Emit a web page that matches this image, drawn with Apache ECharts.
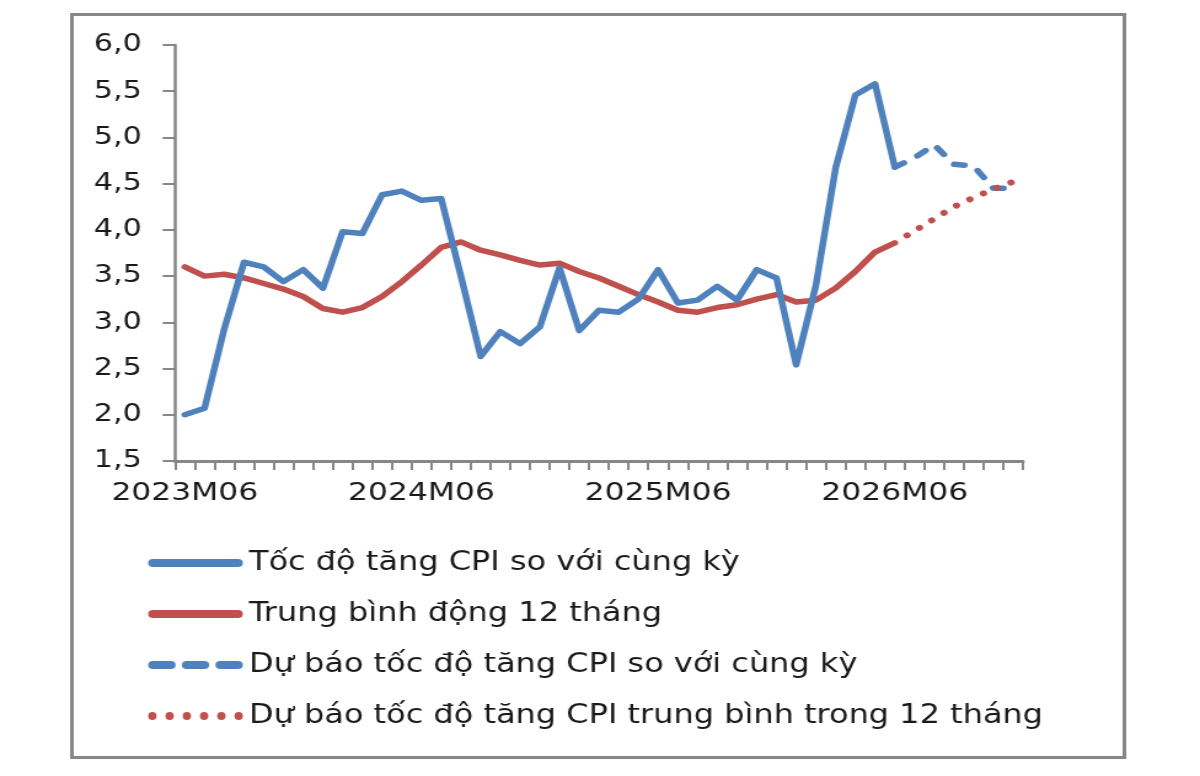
<!DOCTYPE html>
<html>
<head>
<meta charset="utf-8">
<script src="https://cdn.jsdelivr.net/npm/echarts@6/dist/echarts.min.js"></script>
<style>
html,body{margin:0;padding:0;background:#fff;overflow:hidden;}
#wrap{width:1200px;height:776px;overflow:hidden;}
#chart{width:976px;height:776px;transform-origin:0 0;transform:scaleX(1.2295);}
</style>
</head>
<body>
<div id="wrap"><div id="chart"></div></div>
<script>
var categories = [
  "2023M06","2023M07","2023M08","2023M09","2023M10","2023M11","2023M12",
  "2024M01","2024M02","2024M03","2024M04","2024M05","2024M06","2024M07","2024M08","2024M09","2024M10","2024M11","2024M12",
  "2025M01","2025M02","2025M03","2025M04","2025M05","2025M06","2025M07","2025M08","2025M09","2025M10","2025M11","2025M12",
  "2026M01","2026M02","2026M03","2026M04","2026M05","2026M06","2026M07","2026M08","2026M09","2026M10","2026M11","2026M12"
];
var seriesNames = [
  "Tốc độ tăng CPI so với cùng kỳ",
  "Trung bình động 12 tháng",
  "Dự báo tốc độ tăng CPI so với cùng kỳ",
  "Dự báo tốc độ tăng CPI trung bình trong 12 tháng"
];
var cpiYoY = [2.00, 2.07, 2.93, 3.65, 3.60, 3.44, 3.57, 3.37, 3.98, 3.96, 4.38, 4.42, 4.32, 4.34, 3.50, 2.63, 2.90, 2.77, 2.95, 3.59, 2.91, 3.13, 3.11, 3.25, 3.57, 3.21, 3.24, 3.39, 3.24, 3.57, 3.48, 2.54, 3.40, 4.67, 5.46, 5.58, 4.68,
  null, null, null, null, null, null];
var cpiAvg12 = [3.60, 3.50, 3.52, 3.48, 3.42, 3.36, 3.28, 3.15, 3.11, 3.16, 3.28, 3.44, 3.62, 3.81, 3.87, 3.78, 3.73, 3.67, 3.62, 3.64, 3.55, 3.48, 3.39, 3.30, 3.22, 3.13, 3.11, 3.16, 3.19, 3.25, 3.30, 3.22, 3.24, 3.37, 3.55, 3.76, 3.86,
  null, null, null, null, null, null];
var forecastYoY = [null, null, null, null, null, null, null, null, null, null, null, null, null, null, null, null, null, null, null, null, null, null, null, null, null, null, null, null, null, null, null, null, null, null, null, null,
  4.68, 4.78, 4.92, 4.71, 4.69, 4.45, 4.45];
var forecastAvg12 = [null, null, null, null, null, null, null, null, null, null, null, null, null, null, null, null, null, null, null, null, null, null, null, null, null, null, null, null, null, null, null, null, null, null, null, null,
  3.86, 3.99, 4.12, 4.25, 4.35, 4.44, 4.52];
var yTicks = {min: 1.5, max: 6.0, step: 0.5};

var BLUE = '#4f81bd', RED = '#c0504d', AXIS = '#878787', TXT = '#1a1a1a';
var FONT = '"DejaVu Sans", Verdana, sans-serif';

var dashIcon = 'path://M4,0H18A4,4 0 0 1 18,8H4A4,4 0 0 1 4,0Z' +
  'M31,0H45A4,4 0 0 1 45,8H31A4,4 0 0 1 31,0Z' +
  'M58,0H72A4,4 0 0 1 72,8H58A4,4 0 0 1 58,0Z';
var dotIcon = 'path://';
for (var k = 0; k < 6; k++) {
  var cx = 3.3 + k * 13.6;
  dotIcon += 'M' + (cx - 3.3) + ',4A3.3,4 0 1 0 ' + (cx + 3.3) + ',4A3.3,4 0 1 0 ' + (cx - 3.3) + ',4Z';
}
var solidIcon = 'path://M4,0H73A4,4 0 0 1 73,8H4A4,4 0 0 1 4,0Z';

var chart = echarts.init(document.getElementById('chart'), null, {renderer: 'canvas'});
chart.setOption({
  animation: false,
  backgroundColor: '#fff',
  graphic: [{
    type: 'rect', left: 56, top: 12, silent: true,
    shape: {width: 856, height: 743},
    style: {fill: 'none', stroke: AXIS, lineWidth: 3}
  }],
  grid: {left: 142.3, right: 144, top: 45, bottom: 315, containLabel: false},
  legend: {
    orient: 'vertical', left: 120.5, top: 548, padding: 0,
    itemWidth: 77, itemHeight: 8, itemGap: 21,
    symbolKeepAspect: false,
    itemStyle: {borderWidth: 0},
    textStyle: {fontFamily: FONT, fontSize: 26, color: TXT, lineHeight: 30},
    data: [
      {name: seriesNames[0], icon: solidIcon},
      {name: seriesNames[1], icon: solidIcon},
      {name: seriesNames[2], icon: dashIcon},
      {name: seriesNames[3], icon: dotIcon}
    ]
  },
  xAxis: {
    type: 'category', data: categories, boundaryGap: true,
    axisLine: {show: true, lineStyle: {color: AXIS, width: 3}},
    axisTick: {show: true, interval: 0, length: 9, lineStyle: {color: AXIS, width: 2}},
    axisLabel: {interval: 11, margin: 19, fontFamily: FONT, fontSize: 25.5, color: TXT},
    splitLine: {show: false}
  },
  yAxis: {
    type: 'value', min: yTicks.min, max: yTicks.max, interval: yTicks.step,
    axisLine: {show: true, lineStyle: {color: AXIS, width: 2.5}},
    axisTick: {show: true, length: 10, lineStyle: {color: AXIS, width: 2}},
    axisLabel: {margin: 27, fontFamily: FONT, fontSize: 24.5, color: TXT,
      formatter: function (v) { return v.toFixed(1).replace('.', ','); }},
    splitLine: {show: false}
  },
  series: [
    {name: seriesNames[0], type: 'line', data: cpiYoY, showSymbol: false, symbol: 'none',
      color: BLUE, itemStyle: {color: BLUE},
      lineStyle: {color: BLUE, width: 5.5, cap: 'round', join: 'round'}, z: 3},
    {name: seriesNames[1], type: 'line', data: cpiAvg12, showSymbol: false, symbol: 'none',
      color: RED, itemStyle: {color: RED},
      lineStyle: {color: RED, width: 5.5, cap: 'round', join: 'round'}, z: 2},
    {name: seriesNames[2], type: 'line', data: forecastYoY, showSymbol: false, symbol: 'none',
      color: BLUE, itemStyle: {color: BLUE},
      lineStyle: {color: BLUE, width: 5.5, type: [8.5, 13], cap: 'round', join: 'round'}, z: 3},
    {name: seriesNames[3], type: 'line', data: forecastAvg12, showSymbol: false, symbol: 'none',
      color: RED, itemStyle: {color: RED},
      lineStyle: {color: RED, width: 6, type: [0.01, 12.5], dashOffset: -12.5, cap: 'round', join: 'round'}, z: 4}
  ]
});
</script>
</body>
</html>
